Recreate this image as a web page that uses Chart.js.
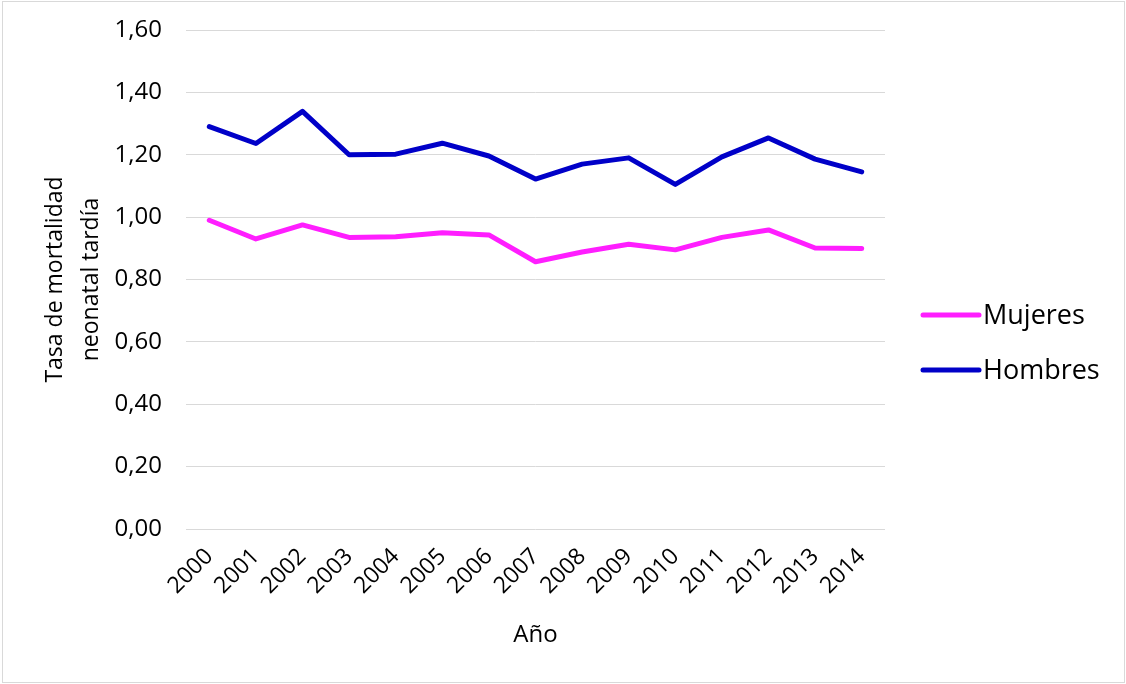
<!DOCTYPE html>
<html lang="es">
<head>
<meta charset="utf-8">
<title>Tasa de mortalidad neonatal tardía</title>
<script src="https://cdn.jsdelivr.net/npm/chart.js@4/dist/chart.umd.min.js"></script>
<style>
  html, body { margin: 0; padding: 0; background: #ffffff; }
  #wrap { width: 1126px; height: 684px; position: relative; }
  canvas { display: block; }
</style>
</head>
<body>
<div id="wrap"><canvas id="chart" width="1126" height="684"></canvas></div>
<script>
// Años del eje horizontal
const years = ['2000', '2001', '2002', '2003', '2004', '2005', '2006', '2007',
               '2008', '2009', '2010', '2011', '2012', '2013', '2014'];

// Tasa de mortalidad neonatal tardía por sexo
const mujeres = [0.99, 0.93, 0.975, 0.935, 0.937, 0.95, 0.943, 0.857,
                 0.888, 0.913, 0.895, 0.935, 0.959, 0.901, 0.899];
const hombres = [1.29, 1.236, 1.339, 1.2, 1.202, 1.237, 1.196, 1.122,
                 1.17, 1.19, 1.105, 1.193, 1.254, 1.186, 1.145];

// Escala vertical
const yMin = 0;
const yMax = 1.6;
const yStep = 0.2;

const FONT = '"Open Sans", "Noto Sans", sans-serif';

// Fondo blanco y marco gris alrededor del gráfico
const frame = {
  id: 'frame',
  beforeDraw(chart) {
    const ctx = chart.ctx;
    ctx.save();
    ctx.fillStyle = '#ffffff';
    ctx.fillRect(0, 0, chart.width, chart.height);
    ctx.strokeStyle = '#d9d9d9';
    ctx.lineWidth = 1;
    ctx.strokeRect(2.5, 1.5, chart.width - 4, chart.height - 3);
    ctx.restore();
  }
};

// Leyenda a la derecha: línea gruesa + texto
const sideLegend = {
  id: 'sideLegend',
  afterDraw(chart) {
    const ctx = chart.ctx;
    const x0 = chart.chartArea.right + 38;
    const lineLen = 56;
    const firstY = 315;
    const gap = 55;
    ctx.save();
    ctx.font = '27px ' + FONT;
    ctx.textBaseline = 'middle';
    ctx.textAlign = 'left';
    chart.data.datasets.forEach((ds, i) => {
      const y = firstY + i * gap;
      ctx.strokeStyle = ds.borderColor;
      ctx.lineWidth = 5;
      ctx.lineCap = 'round';
      ctx.beginPath();
      ctx.moveTo(x0, y);
      ctx.lineTo(x0 + lineLen, y);
      ctx.stroke();
      ctx.fillStyle = '#000000';
      ctx.fillText(ds.label, x0 + lineLen + 4, y + 1);
    });
    ctx.restore();
  }
};

const lineStyle = {
  borderWidth: 5,
  pointRadius: 0,
  pointHoverRadius: 0,
  tension: 0,
  fill: false,
  borderCapStyle: 'round',
  borderJoinStyle: 'round'
};

new Chart(document.getElementById('chart'), {
  type: 'line',
  data: {
    labels: years,
    datasets: [
      Object.assign({ label: 'Mujeres', data: mujeres, borderColor: '#ff1eff', backgroundColor: '#ff1eff' }, lineStyle),
      Object.assign({ label: 'Hombres', data: hombres, borderColor: '#0000c8', backgroundColor: '#0000c8' }, lineStyle)
    ]
  },
  options: {
    responsive: false,
    animation: false,
    devicePixelRatio: 1,
    layout: { padding: { left: 0, right: 241, top: 30, bottom: 0 } },
    plugins: {
      legend: { display: false },
      tooltip: { enabled: false }
    },
    scales: {
      x: {
        offset: true,
        grid: { display: false, drawTicks: false },
        border: { display: false },
        ticks: {
          color: '#000000',
          font: { family: FONT, size: 23 },
          minRotation: 45,
          maxRotation: 45,
          autoSkip: false,
          padding: 14
        },
        title: {
          display: true,
          text: 'Año',
          color: '#000000',
          font: { family: FONT, size: 24 },
          padding: { top: 0, bottom: 34 }
        },
        afterFit(scale) { scale.height = 155; }
      },
      y: {
        min: yMin,
        max: yMax,
        grid: { color: '#d9d9d9', lineWidth: 1, drawTicks: false },
        border: { display: false },
        ticks: {
          stepSize: yStep,
          color: '#000000',
          font: { family: FONT, size: 24 },
          padding: 24,
          callback: (v) => Number(v).toFixed(2).replace('.', ',')
        },
        title: {
          display: true,
          text: ['Tasa de mortalidad', 'neonatal tardía'],
          color: '#000000',
          font: { family: FONT, size: 23, lineHeight: 1.55 },
          padding: { top: 38, bottom: 0 }
        },
        afterFit(scale) {
          scale.width = 186;
          // the top label only needs half its height above the plot
          scale.paddingTop = 15;
        }
      }
    }
  },
  plugins: [frame, sideLegend]
});
</script>
</body>
</html>
